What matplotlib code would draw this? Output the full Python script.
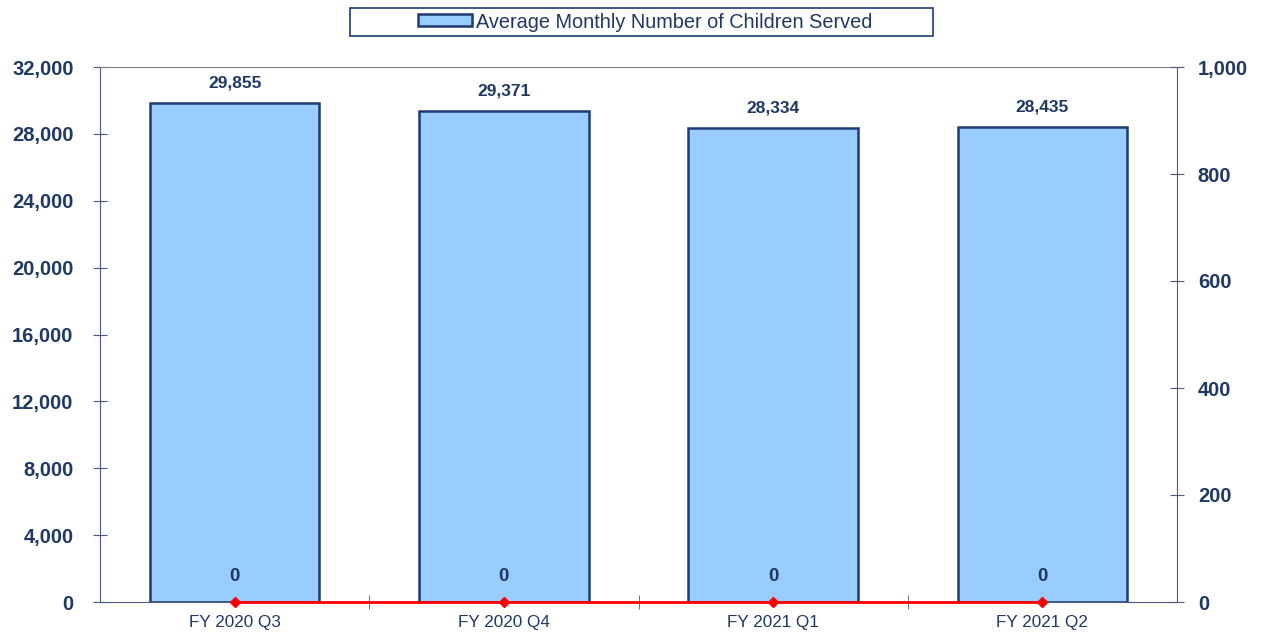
import matplotlib
matplotlib.use("Agg")
import matplotlib.pyplot as plt
from matplotlib.ticker import FuncFormatter, MultipleLocator
from matplotlib.patches import Rectangle

plt.rcParams['font.family'] = ['Liberation Sans', 'DejaVu Sans']

categories = ["FY 2020 Q3", "FY 2020 Q4", "FY 2021 Q1", "FY 2021 Q2"]
children_served = [29855, 29371, 28334, 28435]
secondary_values = [0, 0, 0, 0]

navy = "#1F3A73"
txt = "#1F3864"
spine = "#4A5A80"

fig = plt.figure(figsize=(12.61, 6.32), dpi=100)
ax = fig.add_axes([100/1261, 30/632, 1077/1261, 535/632])
x = list(range(len(categories)))
bars = ax.bar(x, children_served, width=0.63, color="#99CCFF", edgecolor=navy,
              linewidth=1.8, label="Average Monthly Number of Children Served", zorder=2)
ax.set_xlim(-0.5, len(categories) - 0.5)
ax.set_ylim(0, 32000)
ax.yaxis.set_major_locator(MultipleLocator(4000))
ax.yaxis.set_major_formatter(FuncFormatter(lambda v, p: f"{int(v):,}"))
for b, v in zip(bars, children_served):
    ax.annotate(f"{v:,}", (b.get_x() + b.get_width()/2, v), xytext=(0, 9),
                textcoords="offset points", ha="center", va="bottom",
                fontsize=12.5, fontweight="bold", color=txt)

ax.set_xticks(x)
ax.set_xticklabels(categories, fontsize=12.3, color=txt)
ax.set_xticks([i + 0.5 for i in x[:-1]], minor=True)
ax.tick_params(axis="x", which="major", length=0, pad=9)
ax.tick_params(axis="x", which="minor", length=10, direction="inout", color=spine)
ax.tick_params(axis="y", length=10, direction="inout", color=spine,
               labelsize=14.5, labelcolor=txt, pad=14)
for lab in ax.get_yticklabels():
    lab.set_fontweight("bold")
ax.spines["top"].set_color("#808080")
ax.spines["left"].set_color(spine)
ax.spines["bottom"].set_color(spine)
ax.spines["right"].set_visible(False)

ax2 = ax.twinx()
ax2.set_ylim(0, 1000)
ax2.yaxis.set_major_locator(MultipleLocator(200))
ax2.yaxis.set_major_formatter(FuncFormatter(lambda v, p: f"{int(v):,}"))
ax2.plot(x, secondary_values, color="#FF0000", linewidth=2, marker="D",
         markersize=5.5, zorder=3, clip_on=False)
for xi, v in zip(x, secondary_values):
    ax2.annotate(f"{v:,}", (xi, v), xytext=(0, 12), textcoords="offset points",
                 ha="center", va="bottom", fontsize=13.5, fontweight="bold", color=txt)
ax2.tick_params(axis="y", length=10, direction="inout", color=spine,
                labelsize=14.5, labelcolor=txt, pad=10)
for lab in ax2.get_yticklabels():
    lab.set_fontweight("bold")
ax2.spines["right"].set_color(spine)
ax2.spines["top"].set_visible(False)
ax2.spines["left"].set_visible(False)
ax2.spines["bottom"].set_visible(False)

leg = fig.legend(handles=[bars], labels=["Average Monthly Number of Children Served"],
                 loc="center", bbox_to_anchor=(645/1261, 1 - 22/632), fontsize=14.3,
                 frameon=False, handlelength=2.7, handleheight=0.55,
                 borderpad=0.2, handletextpad=0.2)
for t in leg.get_texts():
    t.set_color(txt)
fig.add_artist(Rectangle((350/1261, 1 - 36/632), 583/1261, 28/632,
                         transform=fig.transFigure, fill=False,
                         edgecolor=navy, linewidth=1.2))

fig.savefig("out.png", dpi=100)
